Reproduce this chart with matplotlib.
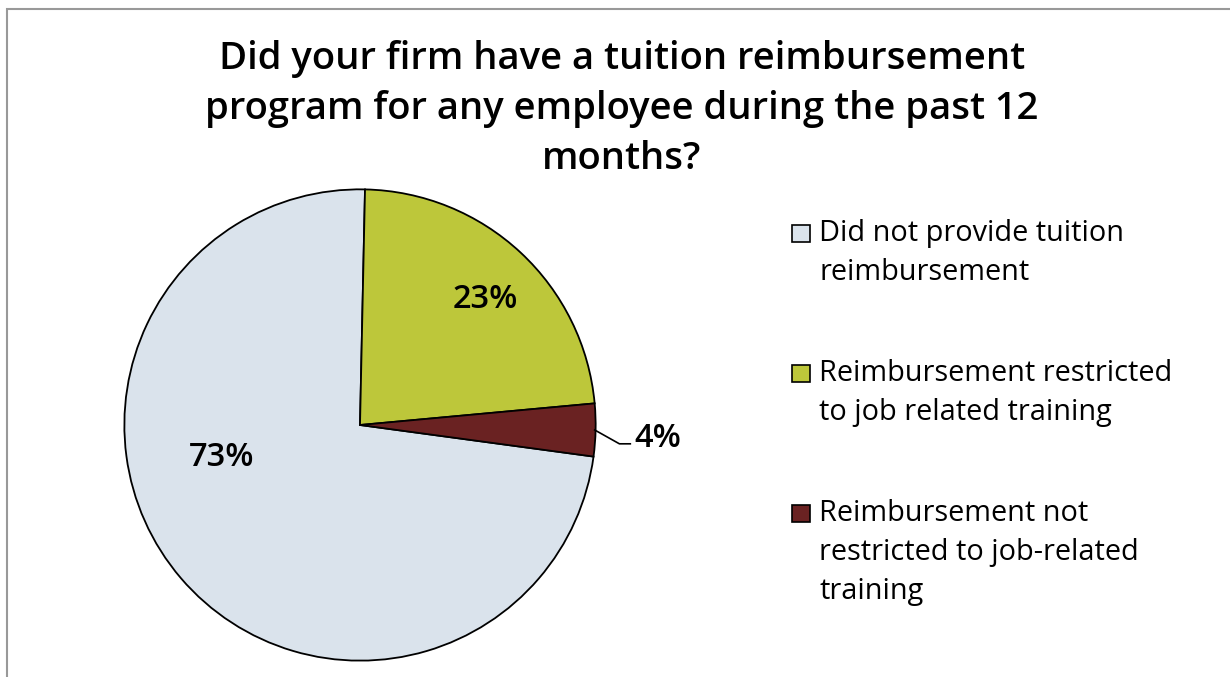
import matplotlib
matplotlib.use("Agg")
import matplotlib.pyplot as plt
from matplotlib.patches import Rectangle

title = "Did your firm have a tuition reimbursement\nprogram for any employee during the past 12\nmonths?"
categories = ["Did not provide tuition\nreimbursement",
              "Reimbursement restricted\nto job related training",
              "Reimbursement not\nrestricted to job-related\ntraining"]
values = [73.2, 23.2, 3.6]
colors = ["#DAE3EC", "#BDC73A", "#6A2222"]

W, H = 1230, 677
fig = plt.figure(figsize=(W / 100, H / 100), dpi=100)
font = "Open Sans"

# border
fig.patches.append(Rectangle((7 / W, -0.1), 1.2, 1 - 9 / H + 0.1, transform=fig.transFigure,
                             fill=False, edgecolor="#999999", linewidth=1.5))

cx, cy, r = 360, 425, 238
ax = fig.add_axes([(cx - r) / W, (H - cy - r) / H, 2 * r / W, 2 * r / H])
wedges, _ = ax.pie(values, colors=colors, startangle=-7.7, counterclock=False, radius=1,
                   wedgeprops=dict(edgecolor="black", linewidth=1.3))
ax.set_xlim(-1.01, 1.01)
ax.set_ylim(-1.01, 1.01)
ax.set_aspect("equal")
ax.axis("off")

labels = [f"{round(v)}%" for v in values]

def px(x, y):
    return ((x - cx) / r, (cy - y) / r)

lab_kw = dict(fontsize=23.5, family=font, fontweight="semibold")
ax.text(*px(220, 458), labels[0], ha="center", va="center", **lab_kw)
ax.text(*px(487, 298), labels[1], ha="center", va="center", **lab_kw)
# leader line for small slice
p1, p2, p3 = px(597, 430), px(622, 444), px(633, 444)
ax.plot([p1[0], p2[0], p3[0]], [p1[1], p2[1], p3[1]], color="black", lw=1.2, clip_on=False)
ax.text(*px(637, 439), labels[2], ha="left", va="center", **lab_kw)

fig.text(622 / W, 1 - 109 / H, title, ha="center", va="center", fontsize=27.5, family=font,
         fontweight="semibold", linespacing=1.42)

# legend
tops = [225, 365, 505]
for cat, col, t in zip(categories, colors, tops):
    fig.patches.append(Rectangle((792 / W, 1 - (t + 17) / H), 18 / W, 17 / H, transform=fig.transFigure,
                                 facecolor=col, edgecolor="black", linewidth=1.2))
    fig.text(819 / W, 1 - (t - 6) / H, cat, ha="left", va="top", fontsize=20.8, family=font,
             linespacing=1.45)

fig.savefig("out.png", dpi=100)
